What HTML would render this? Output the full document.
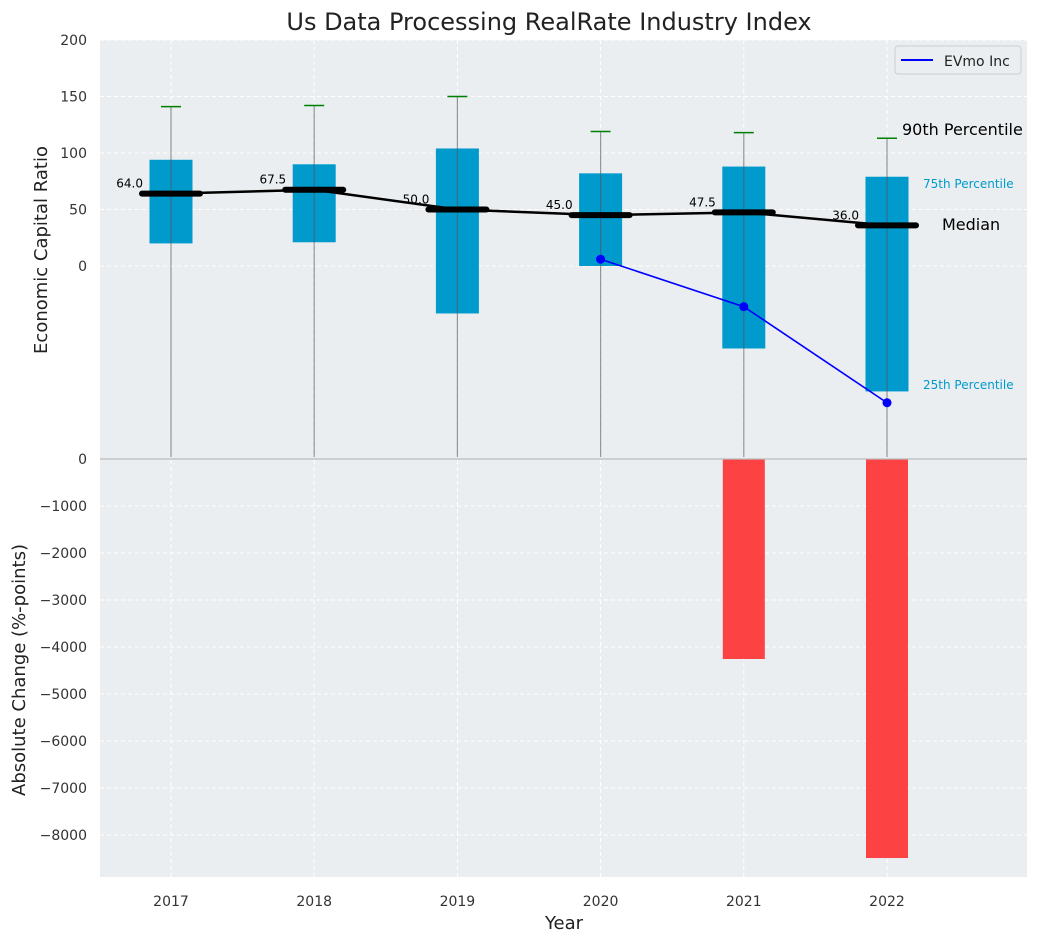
<!DOCTYPE html>
<html><head><meta charset="utf-8"><style>
body{margin:0;background:#fff;font-family:"Liberation Sans","DejaVu Sans",sans-serif}
svg text{font-family:"DejaVu Sans","Liberation Sans",sans-serif}
</style></head><body>
<svg id="c" width="1039" height="942" xmlns="http://www.w3.org/2000/svg"></svg>
<script>
const years=["2017","2018","2019","2020","2021","2022"];
const q1=[20,21,-42,0,-73,-111];
const q3=[94,90,104,82,88,79];
const medians=[64.0,67.5,50.0,45.0,47.5,36.0];
const p90=[141,142,150,119,118,113];
const evmoIdx=[3,4,5];
const evmo=[6,-36,-121];
const changes=[0,0,0,0,-4255,-8490];
const topTicks=[0,50,100,150,200];
const botTicks=[0,-1000,-2000,-3000,-4000,-5000,-6000,-7000,-8000];

const NS="http://www.w3.org/2000/svg";
const svg=document.getElementById('c');
function el(t,a,p){const e=document.createElementNS(NS,t);for(const k in a)e.setAttribute(k,a[k]);(p||svg).appendChild(e);return e;}
const L=100,R=1027,T=40,MID=459,B=877;
const xs=i=>171+i*143.2;
const yt=v=>266-v*1.13;
const yb=v=>459-v*0.047;
const bg=el('rect',{x:L,y:T,width:R-L,height:B-T,fill:'#eaeef0'});


// grids
topTicks.forEach(v=>{const g=el('line',{x1:L,x2:R,y1:yt(v),y2:yt(v),stroke:'#fff','stroke-dasharray':'4,3','stroke-width':1});
const t=el('text',{x:L-13,y:yt(v)+5,'text-anchor':'end','font-size':14,fill:'#333'});t.textContent=v;});
botTicks.forEach(v=>{const g=el('line',{x1:L,x2:R,y1:yb(v),y2:yb(v),stroke:'#fff','stroke-dasharray':'4,3','stroke-width':1});
const t=el('text',{x:L-13,y:yb(v)+5,'text-anchor':'end','font-size':14,fill:'#333'});t.textContent=v===0?'0':'\u2212'+Math.abs(v);});
years.forEach((y,i)=>{const g=el('line',{x1:xs(i),x2:xs(i),y1:T,y2:B,stroke:'#fff','stroke-dasharray':'4,3'});
const t=el('text',{x:xs(i),y:B+29,'text-anchor':'middle','font-size':14,fill:'#333'});t.textContent=y;});
// bars bottom
changes.forEach((v,i)=>{if(v===0)return;const r=el('rect',{x:xs(i)-21,y:yb(0),width:42,height:yb(v)-yb(0),fill:'#ff2a2a','fill-opacity':0.88});});
const sep=el('line',{x1:L,x2:R,y1:MID,y2:MID,stroke:'#bbb','stroke-width':1.2});
// boxes
years.forEach((y,i)=>{const x=xs(i);
const r=el('rect',{x:x-21.5,y:yt(q3[i]),width:43,height:yt(q1[i])-yt(q3[i]),fill:'#009acd'});
const w=el('line',{x1:x,x2:x,y1:yt(p90[i]),y2:MID-2,stroke:'#555','stroke-opacity':0.6,'stroke-width':1.2});
const c=el('line',{x1:x-10,x2:x+10,y1:yt(p90[i]),y2:yt(p90[i]),stroke:'#008000','stroke-width':1.5});});
// median line
const mp=el('polyline',{points:medians.map((m,i)=>xs(i)+','+yt(m)).join(' '),fill:'none',stroke:'#000','stroke-width':2.5});
medians.forEach((m,i)=>{const x=xs(i);const l=el('line',{x1:x-29,x2:x+29,y1:yt(m),y2:yt(m),stroke:'#000','stroke-width':6,'stroke-linecap':'round'});
const t=el('text',{x:x-28,y:yt(m)-6,'text-anchor':'end','font-size':12,fill:'#000'});t.textContent=m.toFixed(1);});
// evmo
const ep=el('polyline',{points:evmo.map((v,j)=>xs(evmoIdx[j])+','+yt(v)).join(' '),fill:'none',stroke:'#0000ff','stroke-width':1.6});
evmo.forEach((v,j)=>{const d=el('circle',{cx:xs(evmoIdx[j]),cy:yt(v),r:4.5,fill:'#0000ff'});});
// annotations
function txt(s,a,n){const t=el('text',a);t.textContent=s;return t;}
const lx=xs(5);
txt('90th Percentile',{x:902,y:135,'font-size':16,fill:'#000'},'p90-annotation');
txt('75th Percentile',{x:923,y:188,'font-size':12,fill:'#009acd'},'p75-annotation');
txt('Median',{x:942,y:230,'font-size':16,fill:'#000'},'median-annotation');
txt('25th Percentile',{x:923,y:389,'font-size':12,fill:'#009acd'},'p25-annotation');
// legend
const lg=el('g',{});
el('rect',{x:895,y:46,width:126,height:28,rx:3,fill:'#eaeef0',stroke:'#ccc'},lg);
el('line',{x1:901,x2:933,y1:60,y2:60,stroke:'#0000ff','stroke-width':2},lg);
txt('EVmo Inc',{x:944,y:66,'font-size':14,fill:'#222'},'legend-label');
// titles
txt('Us Data Processing RealRate Industry Index',{x:549,y:30,'text-anchor':'middle','font-size':24,fill:'#222'},'chart-title');
txt('Year',{x:564,y:929,'text-anchor':'middle','font-size':18,fill:'#222'},'x-axis-title');
txt('Economic Capital Ratio',{x:47,y:250,'text-anchor':'middle','font-size':18,fill:'#222',transform:'rotate(-90 47 250)'},'top-y-axis-title');
txt('Absolute Change (%-points)',{x:25,y:670,'text-anchor':'middle','font-size':18,fill:'#222',transform:'rotate(-90 25 670)'},'bottom-y-axis-title');
</script>
</body></html>
